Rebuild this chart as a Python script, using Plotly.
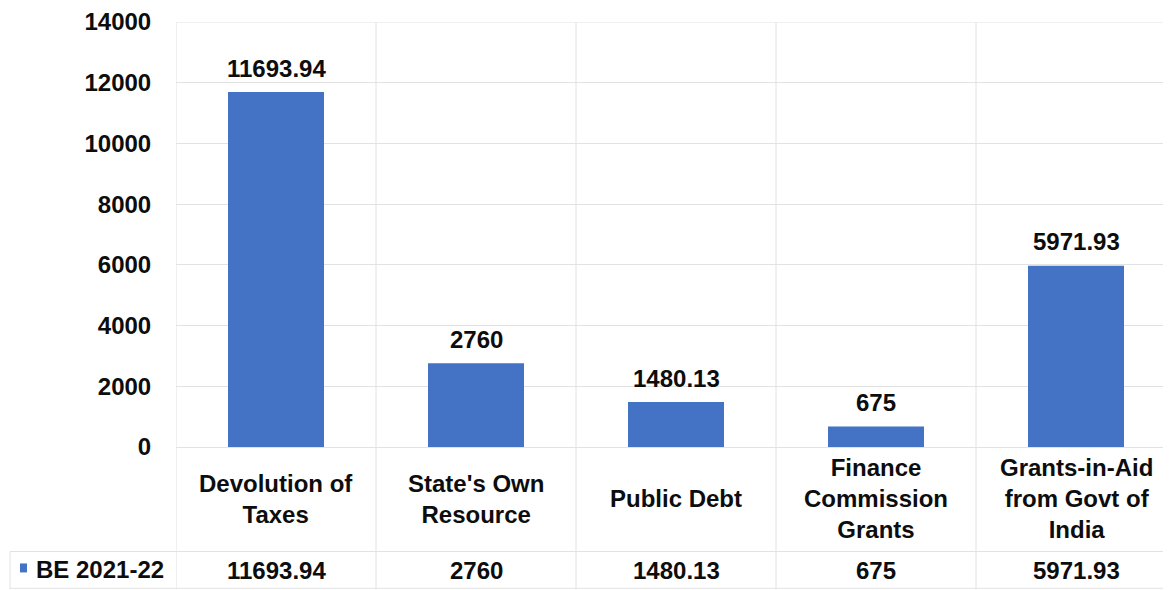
import plotly.graph_objects as go

categories = ["Devolution of<br>Taxes", "State's Own<br>Resource", "Public Debt",
              "Finance<br>Commission<br>Grants", "Grants-in-Aid<br>from Govt of<br>India"]
values = [11693.94, 2760, 1480.13, 675, 5971.93]
value_labels = ["11693.94", "2760", "1480.13", "675", "5971.93"]
series_name = "BE 2021-22"
y_ticks = [0, 2000, 4000, 6000, 8000, 10000, 12000, 14000]

BAR = "#4472C4"
GRID = "#E2E2E2"
FONT = "Liberation Sans, Arial, sans-serif"
TXT = "#0d0d0d"
FS = 24

OFF = 8  # page body margin
PAGE_W, PAGE_H = 1171, 590
W, H = PAGE_W - OFF, PAGE_H - OFF
# page-pixel geometry of the plot area
P_L, P_T, P_B = 176, 20, 447
L, T = P_L - OFF, P_T - OFF
plot_h = P_B - P_T
plot_w = PAGE_W - P_L

def py(p):
    return (P_B - p) / plot_h

def px(p):
    return (p - P_L) / plot_w

x_idx = list(range(len(categories)))
font = dict(family=FONT, size=FS, color=TXT, weight="bold")

fig = go.Figure()
fig.add_trace(go.Bar(
    x=x_idx, y=values, width=0.48, marker=dict(color=BAR, line=dict(width=0)),
    name=series_name, showlegend=False, hoverinfo="x+y",
))

annotations = []
shapes = []
for i, c in enumerate(categories):
    annotations.append(dict(x=i, y=values[i], xref="x", yref="y", text=value_labels[i],
                            showarrow=False, xanchor="center", yanchor="middle", yshift=24,
                            font=font))
    annotations.append(dict(x=i, y=py(499), xref="x", yref="paper", text=c,
                            showarrow=False, xanchor="center", yanchor="middle", font=font))
    annotations.append(dict(x=i, y=py(571), xref="x", yref="paper", text=value_labels[i],
                            showarrow=False, xanchor="center", yanchor="middle", font=font))
annotations.append(dict(x=px(34), y=py(570), xref="paper", yref="paper", text=series_name,
                        showarrow=False, xanchor="left", yanchor="middle", font=font))
shapes.append(dict(type="rect", xref="paper", yref="paper", x0=px(20), x1=px(27),
                   y0=py(573), y1=py(564), fillcolor=BAR, line=dict(width=0)))

for i in range(len(categories) + 1):
    xb = i - 0.5
    shapes.append(dict(type="line", xref="x", yref="paper", x0=xb, x1=xb,
                       y0=1, y1=py(590), line=dict(color=GRID, width=1), layer="below"))
# top gridline (14000)
shapes.append(dict(type="line", xref="paper", yref="y", x0=0, x1=1, y0=y_ticks[-1],
                   y1=y_ticks[-1], line=dict(color=GRID, width=1), layer="below"))
shapes.append(dict(type="line", xref="paper", yref="paper", x0=px(10), x1=1,
                   y0=py(552), y1=py(552), line=dict(color=GRID, width=1)))
shapes.append(dict(type="line", xref="paper", yref="paper", x0=px(10), x1=px(10),
                   y0=py(552), y1=py(590), line=dict(color=GRID, width=1)))
shapes.append(dict(type="line", xref="paper", yref="paper", x0=px(10), x1=1,
                   y0=py(589), y1=py(589), line=dict(color=GRID, width=1)))

fig.update_layout(
    width=W, height=H,
    margin=dict(l=L, r=0, t=T, b=H - (P_B - OFF), pad=0),
    paper_bgcolor="white", plot_bgcolor="white",
    xaxis=dict(range=[-0.5, (plot_w / 200) - 0.5], showticklabels=False, showgrid=False,
               zeroline=False, showline=False, fixedrange=True),
    yaxis=dict(range=[0, 14000], tickvals=y_ticks, ticktext=[str(v) for v in y_ticks],
               showgrid=True, gridcolor=GRID, gridwidth=1, zeroline=True,
               zerolinecolor=GRID, zerolinewidth=1, showline=False,
               ticks="outside", ticklen=19, tickcolor="rgba(0,0,0,0)",
               ticklabeloverflow="allow",
               tickfont=font, fixedrange=True),
    annotations=annotations, shapes=shapes, showlegend=False,
)

fig.write_html("out.html")
